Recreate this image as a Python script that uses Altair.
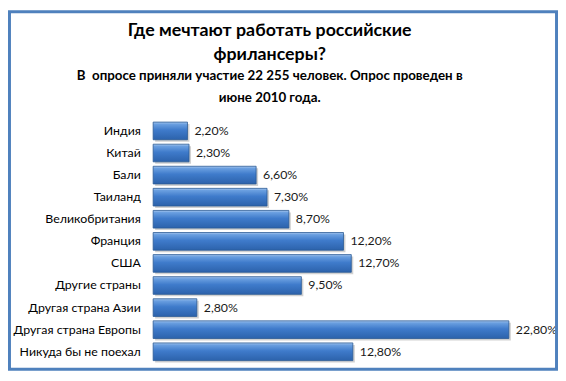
import altair as alt
import pandas as pd

categories = ["Индия", "Китай", "Бали", "Таиланд", "Великобритания", "Франция",
              "США", "Другие страны", "Другая страна Азии", "Другая страна Европы",
              "Никуда бы не поехал"]
values = [2.2, 2.3, 6.6, 7.3, 8.7, 12.2, 12.7, 9.5, 2.8, 22.8, 12.8]

title_lines = ["Где мечтают работать российские", "фрилансеры?"]
subtitle_lines = ["В\u00a0 опросе приняли участие 22 255 человек. Опрос проведен в", "июне 2010 года."]

df = pd.DataFrame({"cat": categories, "v": values})

FONT = "Lato"
PL, PT, W, H = 147, 111, 395, 246
TOTAL_W, TOTAL_H = 557, 365
PR = TOTAL_W - PL - W
PB = TOTAL_H - PT - H

y_enc = alt.Y("cat:N", sort=categories,
              scale=alt.Scale(paddingInner=0.2, paddingOuter=0.1),
              axis=alt.Axis(title=None, ticks=False, domain=False, labelPadding=13,
                            labelFontSize=12.5, labelColor="#000000", labelFont=FONT,
                            grid=False))
x_enc = alt.X("v:Q", scale=alt.Scale(domain=[0, 25], nice=False),
              axis=None)

base = alt.Chart(df)

grad = alt.Gradient(
    gradient="linear",
    stops=[alt.GradientStop(color="#a9c8ee", offset=0),
           alt.GradientStop(color="#6a9fe0", offset=0.12),
           alt.GradientStop(color="#3f7bcb", offset=0.45),
           alt.GradientStop(color="#2c62ab", offset=1)],
    x1=0, x2=0, y1=0, y2=1)

shadow = base.mark_bar(color="#9a9a9a", opacity=0.45, xOffset=2, yOffset=2).encode(x=x_enc, y=y_enc)
bars = base.mark_bar(color=grad, stroke="#2a5a95", strokeWidth=0.8).encode(x=x_enc, y=y_enc)
labels = base.transform_calculate(
    lab="replace(format(datum.v, '.2f'), '.', ',') + '%'"
).mark_text(align="left", baseline="middle", dx=7, fontSize=12.5, font=FONT, color="#1a1a1a").encode(
    x=x_enc, y=y_enc, text="lab:N")

one = alt.Chart(pd.DataFrame({"a": [0]}))

frame = one.mark_rect(fill=None, stroke="#4f81bd", strokeWidth=3).encode(
    x=alt.value(-PL + 1.5), x2=alt.value(W + PR - 1.5),
    y=alt.value(-PT + 1.5), y2=alt.value(H + PB - 1.5))

CX = 265 - PL
title_marks = []
for i, line in enumerate(title_lines):
    title_marks.append(one.mark_text(align="center", baseline="middle", font=FONT, fontSize=18,
                                     fontWeight="bold", color="#000000").encode(
        x=alt.value(CX), y=alt.value(21 + 24 * i - PT), text=alt.value(line)))
for i, line in enumerate(subtitle_lines):
    title_marks.append(one.mark_text(align="center", baseline="middle", font=FONT, fontSize=13.5,
                                     fontWeight="bold", color="#000000").encode(
        x=alt.value(CX), y=alt.value(67 + 22 * i - PT), text=alt.value(line)))

chart = alt.layer(shadow, bars, labels, frame, *title_marks).properties(
    width=W, height=H,
    autosize=alt.AutoSizeParams(type="none"),
    padding={"left": PL, "top": PT, "right": PR, "bottom": PB},
    background="white",
).configure_view(stroke=None)

chart.save("out.html", embed_options={"renderer": "svg", "actions": False})
